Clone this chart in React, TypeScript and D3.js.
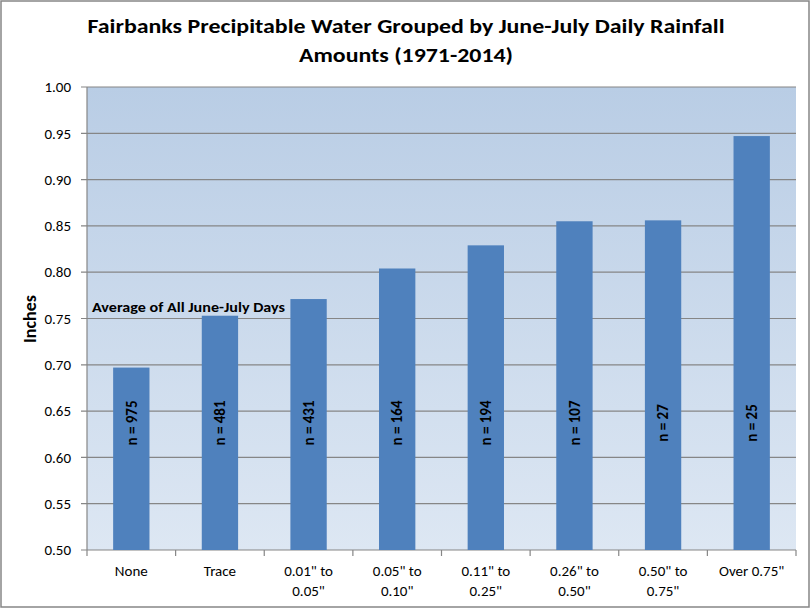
import * as d3 from 'd3'

const categories = ['None', 'Trace', '0.01" to 0.05"', '0.05" to 0.10"', '0.11" to 0.25"', '0.26" to 0.50"', '0.50" to 0.75"', 'Over 0.75"']
const categoryLines = [['None'], ['Trace'], ['0.01" to', '0.05"'], ['0.05" to', '0.10"'], ['0.11" to', '0.25"'], ['0.26" to', '0.50"'], ['0.50" to', '0.75"'], ['Over 0.75"']]
const precipWater = [0.697, 0.753, 0.771, 0.804, 0.829, 0.855, 0.856, 0.947]
const counts = [975, 481, 431, 164, 194, 107, 27, 25]
const yTicks = [0.5, 0.55, 0.6, 0.65, 0.7, 0.75, 0.8, 0.85, 0.9, 0.95, 1.0]

const W = 812
const H = 609
const plot = { left: 87, right: 796, top: 87, bottom: 550 }
const font = 'Carlito, Calibri, "Open Sans", sans-serif'
const gridColor = '#868686'

export default function App() {
  const x = d3.scaleBand<string>().domain(categories).range([plot.left, plot.right])
  const y = d3.scaleLinear().domain([0.5, 1.0]).range([plot.bottom, plot.top])
  const barW = x.bandwidth() * 0.41
  const boundaries = categories.map(c => x(c) as number).concat([plot.right])

  return (
    <svg width={W} height={H} style={{ position: 'absolute', left: 0, top: 0 }} fontFamily={font}>
      <defs>
        <linearGradient id="bg" x1="0" y1="0" x2="0" y2="1">
          <stop offset="0%" stopColor="#b9cde5" />
          <stop offset="100%" stopColor="#dde7f3" />
        </linearGradient>
      </defs>
      <rect x={0} y={0} width={W} height={H} fill="#fff" />
      <rect x={1} y={1} width={808} height={606} fill="none" stroke={gridColor} strokeWidth={1.5} />

      {/* title */}
      <text x={406} y={33} textAnchor="middle" fontSize={20} fontWeight="bold" textLength={637} lengthAdjust="spacingAndGlyphs">
        Fairbanks Precipitable Water Grouped by June-July Daily Rainfall
      </text>
      <text x={406} y={62} textAnchor="middle" fontSize={20} fontWeight="bold" textLength={214} lengthAdjust="spacingAndGlyphs">
        Amounts (1971-2014)
      </text>

      {/* plot background */}
      <rect x={plot.left} y={plot.top} width={plot.right - plot.left} height={plot.bottom - plot.top} fill="url(#bg)" />

      {/* gridlines and y ticks */}
      {yTicks.map(t => (
        <g key={t}>
          <line x1={plot.left - 6} x2={plot.right} y1={y(t)} y2={y(t)} stroke={gridColor} strokeWidth={1.2} />
          <text x={71} y={y(t)} dy="0.35em" textAnchor="end" fontSize={15} fill="#000">{t.toFixed(2)}</text>
        </g>
      ))}
      <line x1={plot.left} x2={plot.left} y1={plot.top} y2={plot.bottom} stroke={gridColor} strokeWidth={1.2} />
      {boundaries.map((b, i) => (
        <line key={i} x1={b} x2={b} y1={plot.bottom} y2={plot.bottom + 6} stroke={gridColor} strokeWidth={1.2} />
      ))}

      {/* bars */}
      {categories.map((c, i) => {
        const cx = (x(c) as number) + x.bandwidth() / 2
        return (
          <g key={c}>
            <rect x={cx - barW / 2} y={y(precipWater[i])} width={barW} height={plot.bottom - y(precipWater[i])} fill="#4f81bd" />
            <text transform={`translate(${cx},${423}) rotate(-90)`} textAnchor="middle" dy="0.35em" fontSize={15} fontWeight="bold">
              n = {counts[i]}
            </text>
          </g>
        )
      })}

      {/* x labels */}
      {categories.map((c, i) => {
        const cx = (x(c) as number) + x.bandwidth() / 2
        return (
          <text key={c} x={cx} y={576} textAnchor="middle" fontSize={15}>
            {categoryLines[i].map((l, j) => (
              <tspan key={j} x={cx} dy={j === 0 ? 0 : 20}>{l}</tspan>
            ))}
          </text>
        )
      })}

      {/* annotation */}
      <text x={92} y={312} fontSize={14} fontWeight="bold" textLength={193} lengthAdjust="spacingAndGlyphs">
        Average of All June-July Days
      </text>

      {/* y axis title */}
      <text transform="translate(36,319) rotate(-90)" textAnchor="middle" fontSize={18} fontWeight="bold">Inches</text>
    </svg>
  )
}
